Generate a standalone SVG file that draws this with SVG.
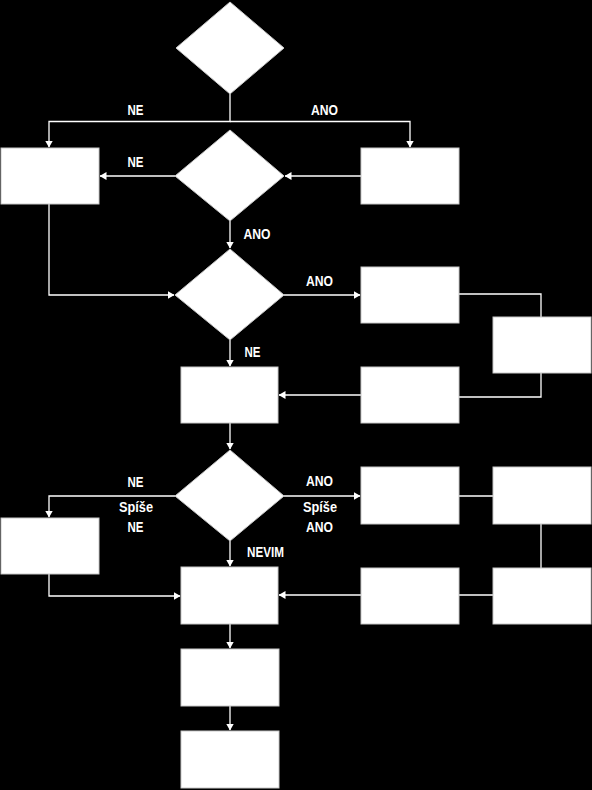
<svg xmlns="http://www.w3.org/2000/svg" width="592" height="790" viewBox="0 0 592 790">
<defs>
<marker id="ah" markerWidth="7" markerHeight="8" refX="6.5" refY="4" orient="auto" markerUnits="userSpaceOnUse">
<path d="M0,0 L7,4 L0,8 Z" fill="#fff"/>
</marker>
<style>
.n{fill:#fff;stroke:#c8c8c8;stroke-width:1}
.c{fill:none;stroke:#fff;stroke-width:1.3}
.a{marker-end:url(#ah)}
.t{fill:#fff;font-family:"Liberation Sans",Arial,sans-serif;font-weight:bold;font-size:14px;text-anchor:middle}
</style>
</defs>
<rect x="0" y="0" width="592" height="790" fill="#000"/>
<g id="connectors">
<path class="c a" d="M230,94 V121.5 H49 V147"/>
<path class="c a" d="M230,121.5 H410 V147"/>
<path class="c a" d="M175,176 H100"/>
<path class="c a" d="M361,176 H285"/>
<path class="c a" d="M230,221 V248"/>
<path class="c a" d="M49,204 V295 H174"/>
<path class="c a" d="M284,295 H360"/>
<path class="c" d="M459,294 H541 V317"/>
<path class="c" d="M541,373 V397 H459"/>
<path class="c a" d="M361,395 H279"/>
<path class="c a" d="M230,340 V366"/>
<path class="c a" d="M230,423 V449"/>
<path class="c a" d="M175,496 H49 V517"/>
<path class="c a" d="M284,496 H360"/>
<path class="c" d="M459,496 H493"/>
<path class="c" d="M541,524 V568"/>
<path class="c" d="M493,595 H459"/>
<path class="c a" d="M361,595 H279"/>
<path class="c a" d="M49,574 V596 H180"/>
<path class="c a" d="M230,541 V566"/>
<path class="c a" d="M230,624 V648"/>
<path class="c a" d="M230,706 V730"/>
</g>
<g id="d1"><polygon class="n" points="230,2 284,48 230,94 176,48"/></g>
<g id="d2"><polygon class="n" points="230,130 284,176 230,221 175,176"/></g>
<g id="d3"><polygon class="n" points="230,249 284,295 230,340 175,295"/></g>
<g id="d4"><polygon class="n" points="230,450 284,496 230,541 175,496"/></g>
<g id="r1"><rect class="n" x="1" y="148" width="98" height="56"/></g>
<g id="r2"><rect class="n" x="361" y="148" width="98" height="56"/></g>
<g id="r3"><rect class="n" x="361" y="267" width="98" height="56"/></g>
<g id="r4"><rect class="n" x="493" y="317" width="98" height="56"/></g>
<g id="r5"><rect class="n" x="361" y="367" width="98" height="56"/></g>
<g id="r6"><rect class="n" x="181" y="367" width="97" height="56"/></g>
<g id="r7"><rect class="n" x="1" y="518" width="98" height="56"/></g>
<g id="r8"><rect class="n" x="361" y="467" width="98" height="57"/></g>
<g id="r9"><rect class="n" x="493" y="467" width="98" height="57"/></g>
<g id="r10"><rect class="n" x="361" y="568" width="98" height="56"/></g>
<g id="r11"><rect class="n" x="493" y="568" width="98" height="56"/></g>
<g id="r12"><rect class="n" x="181" y="567" width="97" height="57"/></g>
<g id="r13"><rect class="n" x="181" y="649" width="98" height="57"/></g>
<g id="r14"><rect class="n" x="181" y="731" width="98" height="57"/></g>
<g id="labels">
<text class="t" x="135.5" y="115" textLength="16" lengthAdjust="spacingAndGlyphs">NE</text>
<text class="t" x="324.5" y="115" textLength="27" lengthAdjust="spacingAndGlyphs">ANO</text>
<text class="t" x="135.5" y="167" textLength="16" lengthAdjust="spacingAndGlyphs">NE</text>
<text class="t" x="257" y="239" textLength="27" lengthAdjust="spacingAndGlyphs">ANO</text>
<text class="t" x="319.5" y="286" textLength="27" lengthAdjust="spacingAndGlyphs">ANO</text>
<text class="t" x="252.5" y="357" textLength="16" lengthAdjust="spacingAndGlyphs">NE</text>
<text class="t" x="135.5" y="487" textLength="16" lengthAdjust="spacingAndGlyphs">NE</text>
<text class="t" x="136" y="512" textLength="34" lengthAdjust="spacingAndGlyphs">Spíše</text>
<text class="t" x="135.5" y="532" textLength="16" lengthAdjust="spacingAndGlyphs">NE</text>
<text class="t" x="265.5" y="557" textLength="37" lengthAdjust="spacingAndGlyphs">NEVIM</text>
<text class="t" x="319.5" y="486" textLength="27" lengthAdjust="spacingAndGlyphs">ANO</text>
<text class="t" x="320" y="512" textLength="34" lengthAdjust="spacingAndGlyphs">Spíše</text>
<text class="t" x="319.5" y="532" textLength="27" lengthAdjust="spacingAndGlyphs">ANO</text>
</g>
</svg>
